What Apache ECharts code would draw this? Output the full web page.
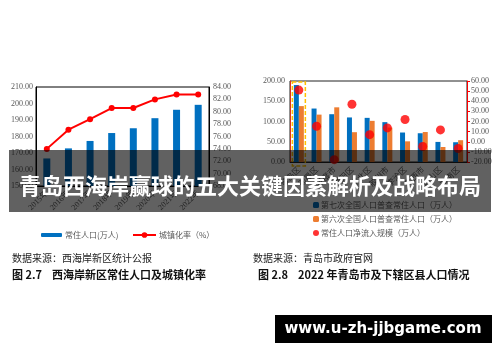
<!DOCTYPE html>
<html><head><meta charset="utf-8">
<script src="https://cdn.jsdelivr.net/npm/echarts@6/dist/echarts.min.js"></script>
<style>html,body{margin:0;padding:0;background:#fff}#c{width:500px;height:362px}</style>
</head><body><div id="c"></div>
<script>
// Left chart data
const years = ['2015年','2016年','2017年','2018年','2019年','2020年','2021年','2022年'];
const population = [166.7, 172.8, 177.3, 182.1, 185.0, 191.1, 196.2, 199.2];
const urbanRate = [74.0, 77.1, 78.8, 80.6, 80.6, 82.0, 82.8, 82.8];
// Right chart data
const districts = ['黄岛区','即墨区','平度市','城阳区','市北区','胶州市','李沧区','莱西市','崂山区','市南区'];
const census7 = [190, 132, 118, 110, 109, 98.4, 72.8, 71, 49.6, 48.8];
const census6 = [138, 117, 135, 73.6, 101.6, 85, 51, 74, 37, 53.8];
const netInflow = [51, 15.3, -17.7, 37, 7, 13.7, 22, -4.7, 11.7, -6.7];

const serif = '"Liberation Serif","Noto Sans CJK SC",serif';
const cjk = '"Noto Sans CJK SC",sans-serif';
const lblGray = '#595959';
const fmt2 = v => v.toFixed(2);

const chart = echarts.init(document.getElementById('c'));
const option = {
  animation: false,
  backgroundColor: '#fff',
  grid: [
    {left: 36, top: 87, width: 173, height: 99, show: true, borderColor: '#000', borderWidth: 1},
    {left: 290, top: 81, width: 177, height: 81, show: true, borderColor: '#222', borderWidth: 1}
  ],
  legend: [
    {data: ['常住人口(万人)'], left: 36, top: 226, itemWidth: 21, itemHeight: 4, itemGap: 3,
     textStyle: {fontSize: 8, color: lblGray, fontFamily: cjk, padding: [0,0,0,-2]}},
    {data: ['城镇化率（%）'], left: 127, top: 226, itemWidth: 23, itemHeight: 7,
     textStyle: {fontSize: 8, color: lblGray, fontFamily: cjk, padding: [0,0,0,-2]}},
    {data: ['第七次全国人口普查常住人口（万人）','第六次全国人口普查常住人口（万人）','常住人口净流入规模（万人）'],
     orient: 'vertical', left: 308, top: 196, itemGap: 6, itemWidth: 6, itemHeight: 6,
     textStyle: {fontSize: 8, color: lblGray, fontFamily: cjk, padding: [0,0,0,-3]}}
  ],
  xAxis: [
    {type: 'category', gridIndex: 0, data: years, axisTick: {show: false},
     axisLine: {lineStyle: {color: '#000'}},
     axisLabel: {rotate: 45, fontSize: 8, color: lblGray, fontFamily: serif, margin: 6, interval: 0}},
    {type: 'category', gridIndex: 1, data: districts, axisTick: {show: false},
     axisLine: {lineStyle: {color: '#222'}},
     axisLabel: {rotate: 45, fontSize: 8, color: lblGray, fontFamily: cjk, margin: 6, interval: 0}}
  ],
  yAxis: [
    {type: 'value', gridIndex: 0, min: 150, max: 210, interval: 10, splitLine: {show: false},
     axisLine: {show: true, lineStyle: {color: '#000'}}, axisTick: {show: false},
     axisLabel: {formatter: fmt2, fontSize: 8, color: lblGray, fontFamily: serif, margin: 3}},
    {type: 'value', gridIndex: 0, position: 'right', min: 68, max: 84, interval: 2, splitLine: {show: false},
     axisLine: {show: true, lineStyle: {color: '#000'}}, axisTick: {show: false},
     axisLabel: {formatter: fmt2, fontSize: 8, color: lblGray, fontFamily: serif, margin: 4}},
    {type: 'value', gridIndex: 1, min: 0, max: 200, interval: 50, splitLine: {show: false},
     axisLine: {show: true, lineStyle: {color: '#e0301e'}}, axisTick: {show: false},
     axisLabel: {formatter: fmt2, fontSize: 8, color: lblGray, fontFamily: serif, margin: 5}},
    {type: 'value', gridIndex: 1, position: 'right', min: -20, max: 60, interval: 10, splitLine: {show: false},
     axisLine: {show: true, lineStyle: {color: '#ff0000'}}, axisTick: {show: true, inside: false, length: 3, lineStyle: {color: '#ff0000'}},
     axisLabel: {formatter: fmt2, fontSize: 8, color: lblGray, fontFamily: serif, margin: 4}}
  ],
  series: [
    {name: '常住人口(万人)', type: 'bar', xAxisIndex: 0, yAxisIndex: 0, data: population,
     barWidth: 7, itemStyle: {color: '#0070c0'}},
    {name: '城镇化率（%）', type: 'line', xAxisIndex: 0, yAxisIndex: 1, data: urbanRate,
     symbol: 'circle', symbolSize: 6, lineStyle: {color: '#ff0000', width: 2}, itemStyle: {color: '#ff0000'}},
    {name: '第七次全国人口普查常住人口（万人）', type: 'bar', xAxisIndex: 1, yAxisIndex: 2, data: census7,
     barWidth: 5, barGap: '0%', itemStyle: {color: '#0070c0'}},
    {name: '第六次全国人口普查常住人口（万人）', type: 'bar', xAxisIndex: 1, yAxisIndex: 2, data: census6,
     barWidth: 5, barGap: '0%', itemStyle: {color: '#ed7d31'}},
    {name: '常住人口净流入规模（万人）', type: 'scatter', xAxisIndex: 1, yAxisIndex: 3, data: netInflow,
     symbol: 'circle', symbolSize: 9, itemStyle: {color: '#ff0000'}}
  ],
  graphic: []
};
chart.setOption(option);

// Dashed highlight box around first district (computed from axis)
const c0 = chart.convertToPixel({xAxisIndex: 1}, districts[0]);
const yTop = chart.convertToPixel({yAxisIndex: 2}, 200);
const yBot = chart.convertToPixel({yAxisIndex: 2}, 0);

const graphics = [
  {type: 'rect', z: 50, shape: {x: c0 - 6.5, y: yTop + 1, width: 13, height: yBot - yTop + 3},
   style: {fill: 'none', stroke: '#ffc000', lineWidth: 1.5, lineDash: [4, 2]}},
  {type: 'text', left: 12, top: 253, z: 60,
   style: {text: '数据来源：西海岸新区统计公报', fontSize: 10, fill: '#222', fontFamily: cjk}},
  {type: 'text', left: 12, top: 269, z: 60,
   style: {text: '图 2.7    西海岸新区常住人口及城镇化率', fontSize: 11, fontWeight: 'bold', fill: '#111', fontFamily: cjk}},
  {type: 'text', left: 253, top: 253, z: 60,
   style: {text: '数据来源：青岛市政府官网', fontSize: 10, fill: '#222', fontFamily: cjk}},
  {type: 'text', left: 258, top: 269, z: 60,
   style: {text: '图 2.8    2022 年青岛市及下辖区县人口情况', fontSize: 11, fontWeight: 'bold', fill: '#111', fontFamily: cjk}},
  {type: 'rect', z: 100, shape: {x: 9, y: 150, width: 482, height: 62},
   style: {fill: 'rgba(0,0,0,0.62)'}},
  {type: 'text', z: 101, x: 250, y: 186,
   style: {text: '青岛西海岸赢球的五大关键因素解析及战略布局', fontSize: 22, fontWeight: 'bold', fill: '#fff',
           fontFamily: cjk, textAlign: 'center', textVerticalAlign: 'middle'}},
  {type: 'rect', z: 100, shape: {x: 275, y: 315, width: 217, height: 28}, style: {fill: '#000'}},
  {type: 'text', z: 101, x: 383, y: 329,
   style: {text: 'www.u-zh-jjbgame.com', fontSize: 15, fontWeight: 'bold', fill: '#fff',
           fontFamily: '"DejaVu Sans",sans-serif', textAlign: 'center', textVerticalAlign: 'middle'}}
];
chart.setOption({graphic: graphics});
</script></body></html>
